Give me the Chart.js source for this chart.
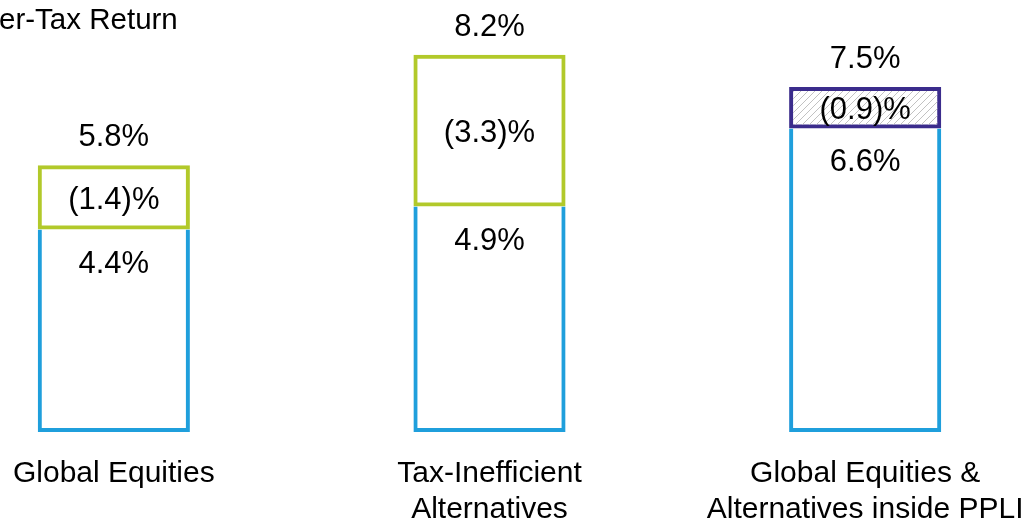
<!DOCTYPE html>
<html>
<head>
<meta charset="utf-8">
<script src="https://cdn.jsdelivr.net/npm/chart.js@4"></script>
<style>
  html, body { margin: 0; padding: 0; width: 1024px; height: 523px; overflow: hidden; background: #fff; }
  #wrap { position: absolute; left: -74px; top: 0; width: 1127px; height: 523px; }
</style>
</head>
<body>
<div id="wrap"><canvas id="c"></canvas></div>
<script>
// Portfolio categories (multi-line labels)
const categories = [
  ['Global Equities'],
  ['Tax-Inefficient', 'Alternatives'],
  ['Global Equities &', 'Alternatives inside PPLI']
];
// After-tax return (bottom segment), tax drag (top segment), pre-tax total
const afterTaxReturn = [4.4, 4.9, 6.6];
const taxDrag = [1.4, 3.3, 0.9];
const preTaxReturn = [5.8, 8.2, 7.5];
const chartTitle = 'After-Tax Return';

const BLUE = '#1f9fdc';
const GREEN = '#b2c92a';
const PURPLE = '#3b2c8c';
const FONT = '"Liberation Sans", Arial, Helvetica, sans-serif';

function hatchPattern() {
  const s = 7;
  const p = document.createElement('canvas');
  p.width = s; p.height = s;
  const g = p.getContext('2d');
  g.strokeStyle = '#c2c2c2';
  g.lineWidth = 1;
  g.beginPath();
  g.moveTo(0, s); g.lineTo(s, 0);
  g.moveTo(-1, 1); g.lineTo(1, -1);
  g.moveTo(s - 1, s + 1); g.lineTo(s + 1, s - 1);
  g.stroke();
  return g.createPattern(p, 'repeat');
}

const fmtPct = v => v.toFixed(1) + '%';
const fmtNeg = v => '(' + v.toFixed(1) + ')%';

const labelPlugin = {
  id: 'barLabels',
  afterDatasetsDraw(chart) {
    const ctx = chart.ctx;
    const x = chart.scales.x;
    const y = chart.scales.y;
    const area = chart.chartArea;
    ctx.save();
    ctx.fillStyle = '#000';
    ctx.textAlign = 'center';
    ctx.textBaseline = 'alphabetic';
    ctx.font = '31px ' + FONT;
    categories.forEach((cat, i) => {
      const cx = x.getPixelForValue(i);
      const yBase = y.getPixelForValue(afterTaxReturn[i]);
      const yTop = y.getPixelForValue(afterTaxReturn[i] + taxDrag[i]);
      const yTotal = y.getPixelForValue(preTaxReturn[i]);
      ctx.fillText(fmtPct(afterTaxReturn[i]), cx, yBase + 43);
      ctx.fillText(fmtNeg(taxDrag[i]), cx, (yBase + yTop) / 2 + 11.5);
      ctx.fillText(fmtPct(preTaxReturn[i]), cx, yTotal - 19);
    });
    // category labels under the bars
    ctx.font = '30px ' + FONT;
    categories.forEach((cat, i) => {
      const cx = x.getPixelForValue(i);
      cat.forEach((line, j) => {
        ctx.fillText(line, cx, area.bottom + 50 + j * 36);
      });
    });
    // chart title
    ctx.textAlign = 'left';
    ctx.font = '29.5px ' + FONT;
    ctx.fillText(chartTitle, 37, 29);
    ctx.restore();
  }
};

new Chart(document.getElementById('c'), {
  type: 'bar',
  data: {
    labels: categories,
    datasets: [
      {
        label: 'After-tax return',
        data: afterTaxReturn,
        backgroundColor: 'rgba(0,0,0,0)',
        borderColor: BLUE,
        borderWidth: { top: 0, left: 4, right: 4, bottom: 4 },
        borderSkipped: false
      },
      {
        label: 'Tax drag',
        data: taxDrag,
        backgroundColor: ['rgba(0,0,0,0)', 'rgba(0,0,0,0)', hatchPattern()],
        borderColor: [GREEN, GREEN, PURPLE],
        borderWidth: 4,
        borderSkipped: false
      }
    ]
  },
  options: {
    responsive: true,
    maintainAspectRatio: false,
    animation: false,
    layout: { padding: { top: 18, bottom: 91, left: 0, right: 0 } },
    datasets: { bar: { categoryPercentage: 1, barPercentage: 0.405 } },
    scales: {
      x: { stacked: true, display: false },
      y: { stacked: true, display: false, min: 0, max: 9 }
    },
    plugins: {
      legend: { display: false },
      tooltip: { enabled: false }
    }
  },
  plugins: [labelPlugin]
});
</script>
</body>
</html>
